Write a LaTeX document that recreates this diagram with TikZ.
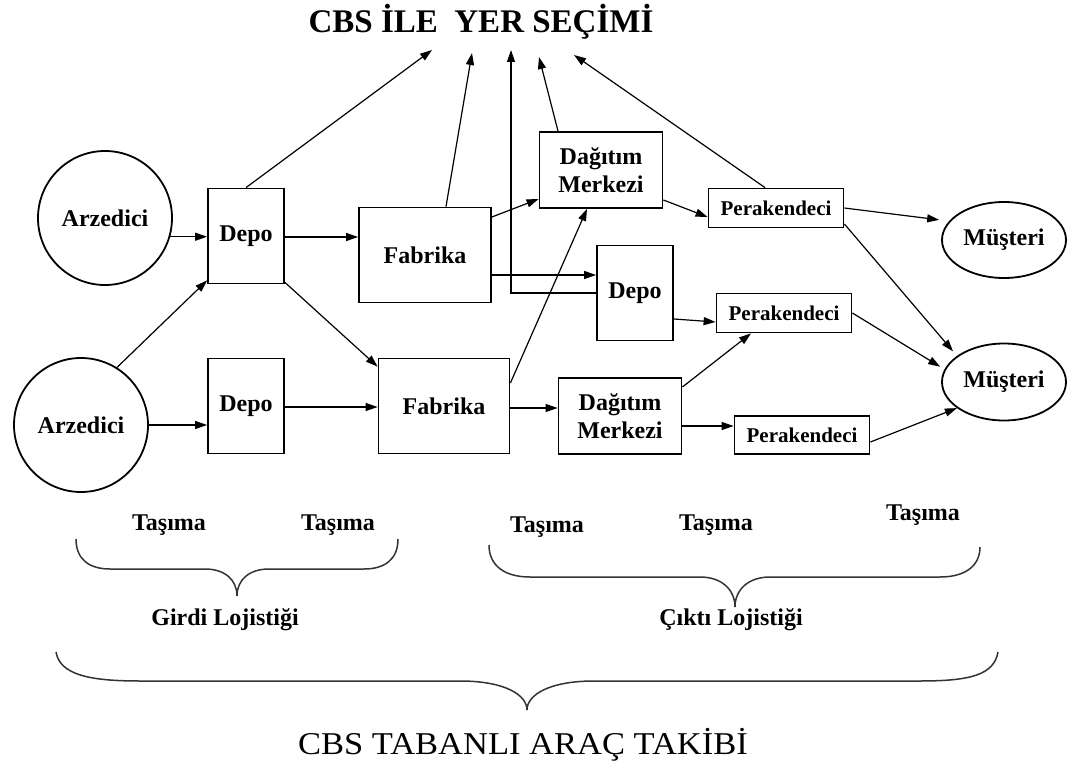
\documentclass[tikz,border=0pt]{standalone}
\usepackage{fontspec}
\setmainfont{Liberation Serif}
\usetikzlibrary{arrows.meta,shapes.geometric}
\begin{document}
\begin{tikzpicture}[x=1bp,y=-1bp,
  nfont/.style={font=\fontsize{24bp}{28bp}\selectfont\bfseries},
  box/.style={draw,line width=1.8bp,rectangle,inner sep=0pt,nfont,align=center},
  circ/.style={draw,line width=1.8bp,circle,inner sep=0pt,minimum size=134bp,nfont},
  ell/.style={draw,line width=1.8bp,ellipse,inner sep=0pt,minimum width=124bp,minimum height=76bp,nfont},
  perbox/.style={box,minimum width=135bp,minimum height=39bp,font=\fontsize{21bp}{24bp}\selectfont\bfseries},
  arr/.style={line width=1.2bp,-{Triangle[length=12bp,width=8bp]}},
  ln/.style={line width=1.2bp},
  brc/.style={line width=1.5bp,draw=black!80},
  lbl/.style={nfont,inner sep=0pt}
]
\useasboundingbox (0,0) rectangle (1069,765);

% title
\node[font=\fontsize{33bp}{36bp}\selectfont\bfseries,inner sep=0pt] (title) at (481,22) {CBS İLE\ \ YER SEÇİMİ};
\coordinate (t1) at (432,50);
\coordinate (t2) at (472,53);
\coordinate (t3) at (511,50);
\coordinate (t4) at (539,57);
\coordinate (t5) at (574,55);

% nodes
\node[circ] (arzA) at (105,218) {Arzedici};
\node[circ] (arzB) at (81,425) {Arzedici};
\node[box,minimum width=76bp,minimum height=95bp] (depoA) at (246,236) {Depo};
\node[box,minimum width=76bp,minimum height=95bp] (depoB) at (246,406) {Depo};
\node[box,minimum width=132bp,minimum height=95bp] (fabA) at (425,255) {Fabrika};
\node[box,minimum width=131bp,minimum height=95bp] (fabB) at (444,406) {Fabrika};
\node[box,minimum width=123bp,minimum height=76bp] (dagA) at (601,170) {Dağıtım\\Merkezi};
\node[box,minimum width=123bp,minimum height=76bp] (dagB) at (620,416) {Dağıtım\\Merkezi};
\node[box,minimum width=76bp,minimum height=95bp] (depoC) at (635,293) {Depo};
\node[perbox] (perA) at (776,208) {Perakendeci};
\node[perbox] (perB) at (784,313) {Perakendeci};
\node[perbox,minimum height=38bp] (perC) at (802,435) {Perakendeci};
\node[ell] (musA) at (1004,240) {Müşteri};
\node[ell,minimum height=77bp] (musB) at (1004,382) {Müşteri};

% connectors to title
\draw[arr] (depoA.north) -- (t1);
\draw[arr] ([xshift=21bp]fabA.north) -- (t2);
\draw[arr] (depoC.west) -| (t3);
\draw[arr] ([xshift=-43bp]dagA.north) -- (t4);
\draw[arr] ([xshift=-11bp]perA.north) -- (t5);

% flows
\draw[arr] (arzA.-16) -- (arzA.-16 -| depoA.west);
\draw[arr] ([yshift=-1bp]depoA.east) -- ([yshift=-1bp]depoA.east -| fabA.west);
\draw[arr] ([yshift=-20bp]fabA.east) -- ([yshift=-20bp]fabA.east -| depoC.west);
\draw[arr] ([yshift=38bp]fabA.east) -- ([yshift=-29bp]dagA.west);
\draw[arr] ([yshift=-30bp]dagA.east) -- ([yshift=-9bp]perA.west);
\draw[arr,shorten >=10bp] (perA.east) -- (musA.161);
\draw[arr,shorten >=6bp] ([yshift=-16bp]perA.east) -- (musB.151);
\draw[arr] ([yshift=-26bp]depoC.east) -- ([yshift=-9bp]perB.west);
\draw[arr,shorten >=5bp] (perB.east) -- (musB.168);
\draw[arr] ([yshift=29bp]dagB.east) -- ([xshift=-33bp]perB.south);
\draw[arr] ([yshift=-10bp]dagB.east) -- ([yshift=-10bp]dagB.east -| perC.west);
\draw[arr] ([yshift=-7bp]perC.east) -- (musB.209);
\draw[arr] ([yshift=-2bp]fabB.east) -- ([yshift=-2bp]fabB.east -| dagB.west);
\draw[arr] ([yshift=23bp]fabB.east) -- ([xshift=-14bp]dagA.south);
\draw[arr] (arzB.east) -- (arzB.east -| depoB.west);
\draw[arr] ([yshift=-1bp]depoB.east) -- ([yshift=-1bp]depoB.east -| fabB.west);
\draw[arr] (arzB.58) -- ([yshift=4bp]depoA.south west);
\draw[arr] ([yshift=2bp]depoA.south east) -- ([yshift=-9bp]fabB.north west);

% labels
\node[lbl] (ta1) at (169,525) {Taşıma};
\node[lbl] (ta2) at (338,525) {Taşıma};
\node[lbl] (ta3) at (547,527) {Taşıma};
\node[lbl] (ta4) at (716,525) {Taşıma};
\node[lbl] (ta5) at (923,515) {Taşıma};
\node[lbl] (girdi) at (225,620) {Girdi Lojistiği};
\node[lbl] (cikti) at (731,620) {Çıktı Lojistiği};
\node[font=\fontsize{34.5bp}{38bp}\selectfont,inner sep=0pt,yscale=0.92] (takip) at (523,745) {CBS TABANLI ARAÇ TAKİBİ};

% braces
\draw[brc] (76,539) .. controls (76,560) and (90,569) .. (110,569) -- (205,569) .. controls (225,569) and (237,580) .. (237,596) .. controls (237,580) and (249,569) .. (269,569) -- (364,569) .. controls (384,569) and (398,560) .. (398,539);
\draw[brc] (489,545) .. controls (489,566) and (505,577) .. (530,577) -- (700,577) .. controls (722,577) and (735,590) .. (735,607) .. controls (735,590) and (748,577) .. (770,577) -- (940,577) .. controls (965,577) and (980,566) .. (980,547);
\draw[brc] (56,652) .. controls (60,675) and (90,681) .. (140,681) -- (460,681) .. controls (505,681) and (527,695) .. (527,710) .. controls (527,695) and (549,681) .. (594,681) -- (920,681) .. controls (970,681) and (994,675) .. (998,652);
\end{tikzpicture}
\end{document}
